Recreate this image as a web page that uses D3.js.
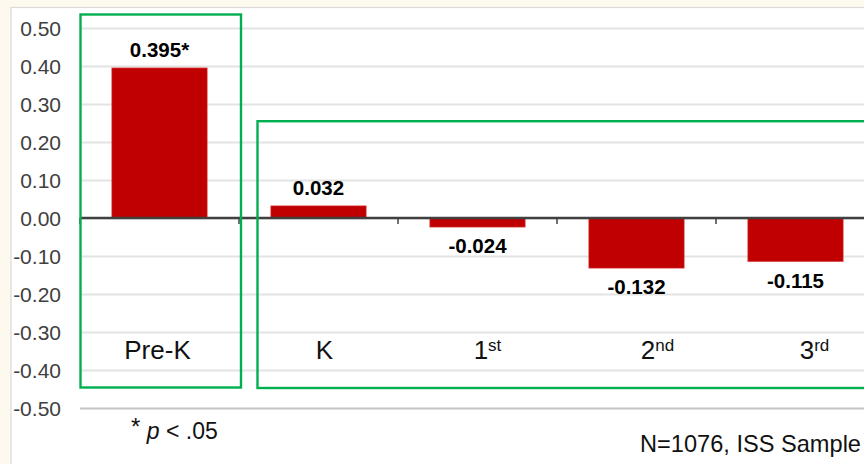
<!DOCTYPE html>
<html>
<head>
<meta charset="utf-8">
<script src="https://cdn.jsdelivr.net/npm/d3@7"></script>
<style>
  html, body { margin: 0; padding: 0; background: #fdf9ee; }
  svg { display: block; }
  text { font-family: "Liberation Sans", Arial, Helvetica, sans-serif; }
</style>
</head>
<body>
<svg id="chart" width="864" height="464"></svg>
<script>
// ---- data ----
const categories = ["Pre-K", "K", "1st", "2nd", "3rd"];
const catMain = ["Pre-K", "K", "1", "2", "3"];
const catSup = ["", "", "st", "nd", "rd"];
const values = [0.395, 0.032, -0.024, -0.132, -0.115];
const significant = [true, false, false, false, false];
const yTicks = [0.5, 0.4, 0.3, 0.2, 0.1, 0.0, -0.1, -0.2, -0.3, -0.4, -0.5];
const footNote = "N=1076, ISS Sample";

// ---- layout ----
const W = 864, H = 464;
const plotLeft = 80, plotRight = 875, plotTop = 28, plotBottom = 408;
const labelNudge = [-2, 6, 10, 21, 19];

const fmt2 = d => d3.format(".2f")(d).replace("\u2212", "-");
const fmt3 = d => d3.format(".3f")(d).replace("\u2212", "-");

const svg = d3.select("#chart");

// chart area (white) with light border
svg.append("rect")
  .attr("x", 11).attr("y", 7.5)
  .attr("width", W + 20).attr("height", H + 20)
  .attr("fill", "#ffffff").attr("stroke", "#d9d9d9").attr("stroke-width", 1.2);

const y = d3.scaleLinear().domain([-0.5, 0.5]).range([plotBottom, plotTop]);
const x = d3.scaleBand().domain(categories).range([plotLeft, plotRight])
  .paddingInner(0.4).paddingOuter(0.2);

// gridlines
const grid = svg.append("g").attr("transform", `translate(${plotLeft},0)`)
  .call(d3.axisLeft(y).tickValues(yTicks).tickSize(-(W - plotLeft + 10)).tickFormat(""));
grid.select(".domain").remove();
grid.selectAll(".tick line")
  .attr("stroke", d => d === -0.5 ? "#c4c4c4" : "#e3e3e3")
  .attr("stroke-width", 2);

// y tick labels
const yAxis = svg.append("g").attr("transform", "translate(61,0)")
  .call(d3.axisLeft(y).tickValues(yTicks).tickSize(0).tickPadding(0).tickFormat(fmt2));
yAxis.select(".domain").remove();
yAxis.selectAll("text")
  .attr("font-size", 21).attr("fill", "#404040").attr("dy", "0.37em")
  .style("font-family", "'Liberation Sans', Arial, sans-serif");

// bars
svg.append("g").selectAll("rect").data(values).join("rect")
  .attr("x", (d, i) => x(categories[i]))
  .attr("width", x.bandwidth())
  .attr("y", d => y(Math.max(0, d)))
  .attr("height", d => Math.abs(y(d) - y(0)))
  .attr("fill", "#c00000")
  .attr("stroke", "#e05a5a").attr("stroke-width", 0.6);

// zero axis line + ticks at category boundaries
svg.append("line")
  .attr("x1", plotLeft).attr("x2", W + 10)
  .attr("y1", y(0)).attr("y2", y(0))
  .attr("stroke", "#404040").attr("stroke-width", 2.5);
const boundaries = d3.range(categories.length + 1).map(i => plotLeft + i * x.step());
svg.append("g").selectAll("line").data(boundaries).join("line")
  .attr("x1", d => d).attr("x2", d => d)
  .attr("y1", y(0)).attr("y2", y(0) + 6)
  .attr("stroke", "#404040").attr("stroke-width", 1.5);

// value labels
svg.append("g").selectAll("text").data(values).join("text")
  .attr("x", (d, i) => x(categories[i]) + x.bandwidth() / 2)
  .attr("y", d => d >= 0 ? y(d) - 11 : y(d) + 26)
  .attr("text-anchor", "middle")
  .attr("font-size", 20.5).attr("font-weight", "bold").attr("fill", "#000")
  .text((d, i) => fmt3(d) + (significant[i] ? "*" : ""));

// category labels
const catG = svg.append("g");
categories.forEach((c, i) => {
  const t = catG.append("text")
    .attr("x", x(c) + x.bandwidth() / 2 + labelNudge[i])
    .attr("y", 358.5)
    .attr("text-anchor", "middle")
    .attr("font-size", 26).attr("fill", "#111");
  t.append("tspan").text(catMain[i]);
  if (catSup[i]) t.append("tspan").attr("font-size", 17).attr("dy", -8).text(catSup[i]);
});

// green highlight boxes
svg.append("rect")
  .attr("x", 80.5).attr("y", 14.5).attr("width", 160.5).attr("height", 373)
  .attr("fill", "none").attr("stroke", "#00b050").attr("stroke-width", 2.4);
svg.append("rect")
  .attr("x", 257.5).attr("y", 121.2).attr("width", 640).attr("height", 266.8)
  .attr("fill", "none").attr("stroke", "#00b050").attr("stroke-width", 2.4);

// significance note
const note = svg.append("text").attr("x", 131).attr("y", 438.5)
  .attr("font-size", 23).attr("fill", "#111");
note.append("tspan").attr("font-size", 24).attr("dy", -4).text("*");
note.append("tspan").attr("dy", 4).text(" ");
note.append("tspan").attr("font-style", "italic").text("p");
note.append("tspan").text(" < .05");

// footnote
svg.append("text").attr("x", 861).attr("y", 451.7)
  .attr("text-anchor", "end").attr("font-size", 23.6).attr("fill", "#111")
  .text(footNote);
</script>
</body>
</html>
